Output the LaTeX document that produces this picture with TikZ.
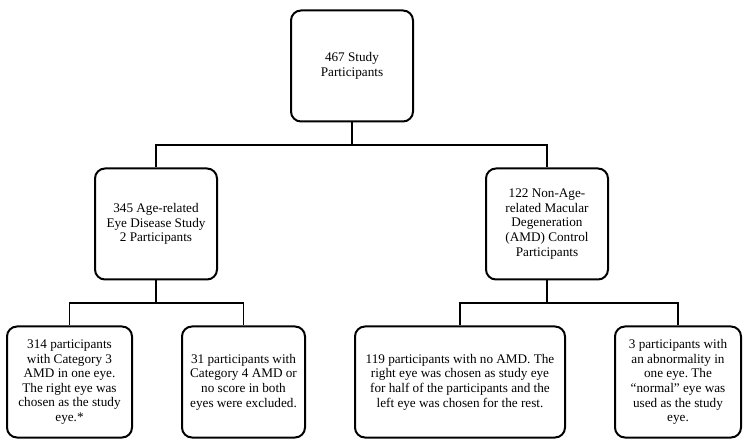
\documentclass[tikz,border=0pt]{standalone}
\usepackage{fontspec}
\setmainfont{Liberation Serif}
\usepackage{tikz}
\usetikzlibrary{positioning}
\frenchspacing
\tikzset{box/.style={draw,rounded corners=10pt,line width=2pt,align=center,inner sep=0pt,minimum height=111pt,font=\fontsize{13.2}{14.6}\selectfont},
link/.style={line width=1.8pt}}

\begin{document}
\begin{tikzpicture}[x=1pt,y=-1pt]
        \useasboundingbox (0,0) rectangle (750,446);
		\node[box,minimum width=122pt] (all) at (352,66) {467 Study\\Participants};
        \node[box,minimum width=122pt] (areds) at (156,224) {345 Age-related\\Eye Disease Study\\2 Participants};
        \node[box,minimum width=122pt] (ctrl) at (547,224) {122 Non-Age-\\related Macular\\Degeneration\\(AMD) Control\\Participants};
        \node[box,minimum width=125pt] (cat3) at (69.5,382) {314 participants\\with Category 3\\AMD in one eye.\\The right eye was\\chosen as the study\\eye.*};
        \node[box,minimum width=123pt] (cat4) at (243.5,382) {31 participants with\\Category 4 AMD or\\no score in both\\eyes were excluded.};
        \node[box,minimum width=210pt] (noamd) at (460,382) {119 participants with no AMD. The\\right eye was chosen as study eye\\for half of the participants and the\\left eye was chosen for the rest.};
        \node[box,minimum width=126pt] (abn) at (678,382) {3 participants with\\an abnormality in\\one eye. The\\``normal'' eye was\\used as the study\\eye.};

        \coordinate (b0) at (352,145);
        \coordinate (b1) at (156,303);
        \coordinate (b2) at (547,303);

        \draw[link] (all.south) -- (b0) -| (areds.north);
        \draw[link] (b0) -| (ctrl.north);
        \draw[link] (areds.south) -- (b1) -| (cat3.north);
        \draw[link] (b1) -| (cat4.north);
        \draw[link] (ctrl.south) -- (b2) -| (noamd.north);
        \draw[link] (b2) -| (abn.north);
    \end{tikzpicture}
\end{document}
